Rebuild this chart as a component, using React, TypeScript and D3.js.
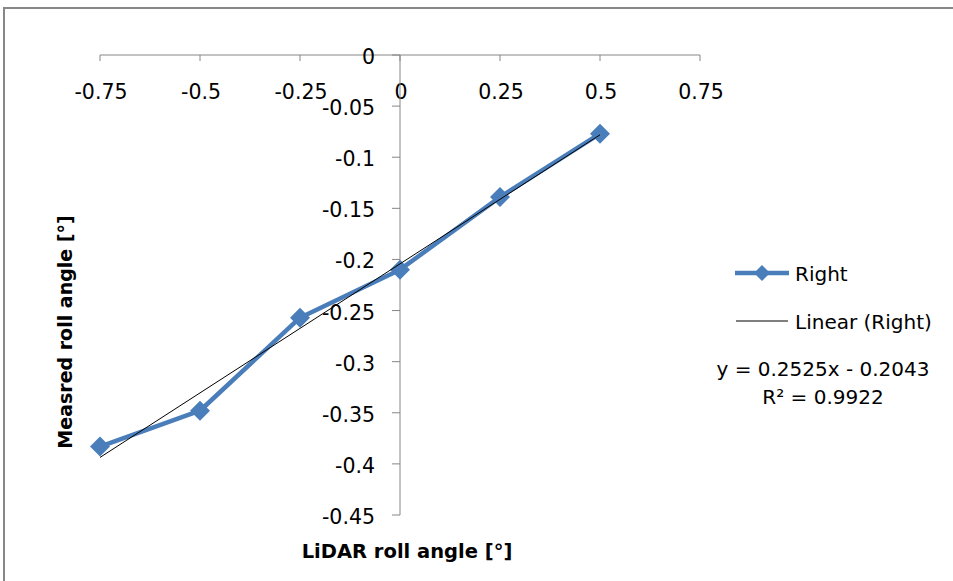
import React from "react";
import * as d3 from "d3";

const xValues = [-0.75, -0.5, -0.25, 0, 0.25, 0.5];
const yValues = [-0.383, -0.348, -0.257, -0.21, -0.139, -0.077];
const xTicks = [-0.75, -0.5, -0.25, 0, 0.25, 0.5, 0.75];
const yTicks = [0, -0.05, -0.1, -0.15, -0.2, -0.25, -0.3, -0.35, -0.4, -0.45];
const slope = 0.2525;
const intercept = -0.2043;
const seriesName = "Right";
const trendName = "Linear (Right)";
const eqText = "y = 0.2525x - 0.2043";
const r2Text = "R² = 0.9922";

const W = 953;
const H = 581;
const FONT = "'DejaVu Sans', sans-serif";
const BLUE = "#4A7EBB";
const AXIS = "#868686";

export default function App() {
  const x = d3.scaleLinear().domain([-0.75, 0.75]).range([100, 700]);
  const y = d3.scaleLinear().domain([0, -0.45]).range([55, 515]);
  const pts: [number, number][] = xValues.map((v, i) => [v, yValues[i]]);
  const line = d3
    .line<[number, number]>()
    .x((d) => x(d[0]))
    .y((d) => y(d[1]));
  const tx = [xValues[0], xValues[xValues.length - 1]];
  const trend: [number, number][] = tx.map((v) => [v, slope * v + intercept]);
  const fmt = (v: number) => (v === 0 ? "0" : String(v));
  const diamond = (cx: number, cy: number, r: number) =>
    `M${cx},${cy - r}L${cx + r},${cy}L${cx},${cy + r}L${cx - r},${cy}Z`;

  return (
    <svg
      width={W}
      height={H}
      style={{ position: "absolute", left: 0, top: 0, background: "#fff" }}
      fontFamily={FONT}
    >
      <rect x={0} y={0} width={W} height={H} fill="#fff" />
      <rect x={4} y={8} width={W + 20} height={H + 20} fill="none" stroke="#878787" strokeWidth={2} />

      {/* x axis at y=0 */}
      <line x1={x(-0.75)} x2={x(0.75)} y1={y(0)} y2={y(0)} stroke={AXIS} strokeWidth={1} />
      {xTicks.map((t) => (
        <g key={"xt" + t}>
          <line x1={x(t)} x2={x(t)} y1={y(0)} y2={y(0) + 6} stroke={AXIS} />
          <text x={x(t) + 1} y={y(0) + 44} textAnchor="middle" fontSize={20.5} fill="#000">
            {fmt(t)}
          </text>
        </g>
      ))}

      {/* y axis at x=0 */}
      <line x1={x(0)} x2={x(0)} y1={y(0)} y2={y(-0.45)} stroke={AXIS} strokeWidth={1} />
      {yTicks.map((t) => (
        <g key={"yt" + t}>
          <line x1={x(0) - 8} x2={x(0)} y1={y(t)} y2={y(t)} stroke={AXIS} />
          <text x={x(0) - 25} y={y(t) + 9} textAnchor="end" fontSize={20.5} fill="#000">
            {fmt(t)}
          </text>
        </g>
      ))}

      {/* series */}
      <path d={line(pts) || ""} fill="none" stroke={BLUE} strokeWidth={4.5} strokeLinejoin="round" />
      {pts.map((p, i) => (
        <path key={"m" + i} d={diamond(x(p[0]), y(p[1]), 10)} fill={BLUE} />
      ))}

      {/* trendline */}
      <path d={line(trend) || ""} fill="none" stroke="#000" strokeWidth={1} />

      {/* axis titles */}
      <text
        transform={`translate(72,${332}) rotate(-90)`}
        textAnchor="middle"
        fontSize={19}
        fontWeight="bold"
        fill="#000"
      >
        Measred roll angle [°]
      </text>
      <text x={407} y={558} textAnchor="middle" fontSize={19.5} fontWeight="bold" fill="#000">
        LiDAR roll angle [°]
      </text>

      {/* legend */}
      <line x1={735} x2={789} y1={273} y2={273} stroke={BLUE} strokeWidth={4.5} />
      <path d={diamond(762, 273, 8)} fill={BLUE} />
      <text x={795} y={281} fontSize={20} fill="#000">
        {seriesName}
      </text>
      <line x1={736} x2={788} y1={321} y2={321} stroke="#000" strokeWidth={1} />
      <text x={795} y={329} fontSize={20} fill="#000">
        {trendName}
      </text>
      <text x={823} y={376} textAnchor="middle" fontSize={20} fill="#000">
        {eqText}
      </text>
      <text x={823} y={404} textAnchor="middle" fontSize={20} fill="#000">
        {r2Text}
      </text>
    </svg>
  );
}
